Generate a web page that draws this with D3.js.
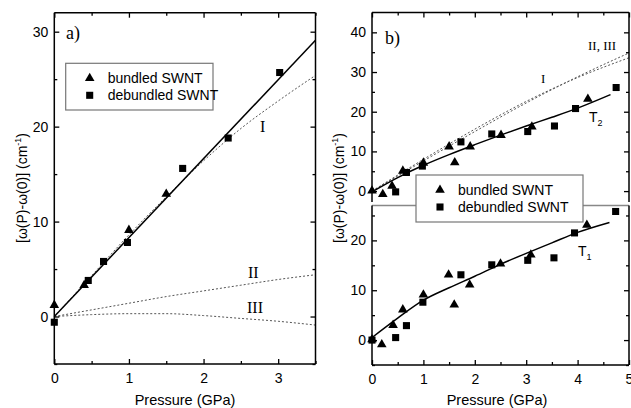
<!DOCTYPE html>
<html>
<head>
<meta charset="utf-8">
<script src="https://cdn.jsdelivr.net/npm/d3@7"></script>
<style>
body { margin: 0; background: #fff; }
text { font-family: Arial, "Liberation Sans", sans-serif; }
.serif { font-family: "Liberation Serif", "Times New Roman", serif; }
</style>
</head>
<body>
<svg width="631" height="408"></svg>
<script>
// ---- panel a data ----
var aBundledP = [0, 0.40, 1.0, 1.5];
var aBundledV = [1.2, 3.3, 9.1, 12.9];
var aDebundledP = [0, 0.455, 0.66, 0.98, 1.72, 2.33, 3.02];
var aDebundledV = [-0.6, 3.8, 5.8, 7.8, 15.6, 18.8, 25.7];
var aFitP = [0, 3.5];
var aFitV = [0, 29.1];
var aCurveP = [0, 0.5, 1, 1.5, 2, 2.5, 3, 3.5];
var aCurveI = [0, 4.3, 8.6, 12.6, 16.4, 19.8, 22.7, 25.4];
var aCurveII = [0, 0.7, 1.4, 2.1, 2.7, 3.3, 3.9, 4.4];
var aCurveIII = [0, 0.2, 0.3, 0.3, 0.1, -0.2, -0.5, -0.9];

// ---- panel b data (T2 top, T1 bottom) ----
var t2BundledP = [0, 0.21, 0.39, 0.60, 1.0, 1.5, 1.61, 1.91, 2.51, 3.11, 4.2];
var t2BundledV = [0.1, -0.8, 1.3, 5.1, 7.1, 11.2, 7.2, 11.2, 14.1, 16.2, 23.2];
var t2DebundledP = [0.46, 0.67, 0.98, 1.73, 2.33, 3.03, 3.55, 3.96, 4.75];
var t2DebundledV = [-0.2, 4.7, 6.3, 12.4, 14.4, 15.0, 16.4, 20.8, 26.1];
var t2FitP = [0, 0.5, 1, 1.5, 2, 2.5, 3, 3.5, 4, 4.64];
var t2FitV = [-0.2, 3.4, 6.5, 9.2, 11.7, 14.1, 16.4, 18.6, 20.9, 24.3];
var bCurveP = [0, 1, 2, 3, 4, 5];
var bCurveI = [0, 8.0, 15.6, 22.6, 28.6, 33.6];
var bCurveII = [0, 7.6, 15.0, 22.2, 28.8, 34.8];

var t1BundledP = [0, 0.19, 0.41, 0.60, 1.0, 1.49, 1.6, 1.9, 2.5, 3.09, 4.18];
var t1BundledV = [0.1, -0.9, 3.0, 6.1, 9.1, 13.1, 7.1, 11.1, 15.3, 17.1, 23.1];
var t1DebundledP = [0, 0.46, 0.67, 0.99, 1.73, 2.33, 3.03, 3.54, 3.94, 4.74];
var t1DebundledV = [0, 0.5, 2.9, 7.6, 13.1, 15.1, 16.0, 16.5, 21.5, 25.8];
var t1FitP = [0, 0.5, 1, 1.5, 2, 2.5, 3, 3.5, 4, 4.62];
var t1FitV = [0.5, 4.4, 8.0, 10.5, 12.8, 15.2, 17.4, 19.5, 21.6, 23.6];

var legendNames = ["bundled SWNT", "debundled SWNT"];

var svg = d3.select("svg");
svg.append("rect").attr("width", 631).attr("height", 408).attr("fill", "#fff");

function zip(xs, ys) { return xs.map(function (x, i) { return [x, ys[i]]; }); }

var triangle = d3.symbol().type(d3.symbolTriangle).size(40);
var square = d3.symbol().type(d3.symbolSquare).size(50);

function drawPoints(g, x, y, pts, sym) {
    g.selectAll(null).data(pts).enter().append("path")
        .attr("d", sym)
        .attr("transform", function (d) { return "translate(" + x(d[0]) + "," + y(d[1]) + ")"; })
        .attr("fill", "#000");
}

function drawLine(g, x, y, pts, dotted) {
    var line = d3.line().x(function (d) { return x(d[0]); }).y(function (d) { return y(d[1]); })
        .curve(d3.curveMonotoneX);
    g.append("path").datum(pts).attr("d", line)
        .attr("fill", "none")
        .attr("stroke", dotted ? "#555" : "#000")
        .attr("stroke-width", dotted ? 1 : 1.5)
        .attr("stroke-dasharray", dotted ? "2,2" : null);
}

// one set of ticks (major + minor); labels only where asked
function ticks(g, axisFn, scale, pos, majors, minors, labelled, pad) {
    var major = axisFn(scale).tickValues(majors).tickSize(-5).tickPadding(pad || 6)
        .tickFormat(labelled ? d3.format("d") : "");
    var minor = axisFn(scale).tickValues(minors).tickSize(-3).tickFormat("");
    [major, minor].forEach(function (ax) {
        g.append("g").attr("transform", pos).call(ax)
            .call(function (s) { s.select(".domain").remove(); })
            .call(function (s) {
                s.selectAll("line").attr("stroke", "#000").attr("stroke-width", 1.3);
                s.selectAll("text").attr("font-size", 14).attr("fill", "#000")
                    .attr("font-family", "Arial, 'Liberation Sans', sans-serif");
            });
    });
}

function frameLine(x1, y1, x2, y2, col) {
    svg.append("line").attr("x1", x1).attr("y1", y1).attr("x2", x2).attr("y2", y2)
        .attr("stroke", col || "#000").attr("stroke-width", 1.5);
}

function legend(x0, y0, w, h) {
    var g = svg.append("g");
    g.append("rect").attr("x", x0).attr("y", y0).attr("width", w).attr("height", h)
        .attr("fill", "#fff").attr("stroke", "#777").attr("stroke-width", 1.2);
    var syms = [triangle, square];
    legendNames.forEach(function (name, i) {
        var cy = y0 + 15 + i * 17;
        g.append("path").attr("d", syms[i]).attr("transform", "translate(" + (x0 + 24) + "," + cy + ")");
        g.append("text").attr("x", x0 + 42).attr("y", cy + 5).attr("font-size", 14).text(name);
    });
}

function yLabel(cx, cy) {
    var t = svg.append("text").attr("transform", "translate(" + cx + "," + cy + ") rotate(-90)")
        .attr("text-anchor", "middle").attr("font-size", 14);
    t.append("tspan").text("[ω(P)-ω(0)] (cm");
    t.append("tspan").attr("font-size", 9).attr("dy", -6).text("-1");
    t.append("tspan").attr("dy", 6).text(")");
}

// ================= panel a =================
var ax = d3.scaleLinear().domain([0, 3.5]).range([54.3, 315.5]);
var ay = d3.scaleLinear().domain([-5, 32]).range([364, 12.7]);
var ga = svg.append("g");

drawLine(ga, ax, ay, zip(aCurveP, aCurveI), true);
drawLine(ga, ax, ay, zip(aCurveP, aCurveII), true);
drawLine(ga, ax, ay, zip(aCurveP, aCurveIII), true);
drawLine(ga, ax, ay, zip(aFitP, aFitV), false);
drawPoints(ga, ax, ay, zip(aBundledP, aBundledV), triangle);
drawPoints(ga, ax, ay, zip(aDebundledP, aDebundledV), square);

ticks(svg, d3.axisBottom, ax, "translate(0,364)", [0, 1, 2, 3], [0.5, 1.5, 2.5, 3.5], true, 9);
ticks(svg, d3.axisTop, ax, "translate(0,12.7)", [0, 1, 2, 3], [0.5, 1.5, 2.5, 3.5], false);
ticks(svg, d3.axisLeft, ay, "translate(54.3,0)", [0, 10, 20, 30], [-5, 5, 15, 25], true, 6);
ticks(svg, d3.axisRight, ay, "translate(315.5,0)", [0, 10, 20, 30], [-5, 5, 15, 25], false);
frameLine(54.3, 12.7, 315.5, 12.7);
frameLine(54.3, 364, 315.5, 364);
frameLine(54.3, 12.7, 54.3, 364);
frameLine(315.5, 12.7, 315.5, 364);

svg.append("text").attr("class", "serif").attr("x", 66).attr("y", 39).attr("font-size", 18).text("a)");
svg.append("text").attr("class", "serif").attr("x", 260).attr("y", 132).attr("font-size", 16).text("I");
svg.append("text").attr("class", "serif").attr("x", 248).attr("y", 278).attr("font-size", 16).text("II");
svg.append("text").attr("class", "serif").attr("x", 247).attr("y", 313).attr("font-size", 16).text("III");
legend(65.7, 63.3, 147.3, 46.7);
yLabel(27, 188);
svg.append("text").attr("x", 185).attr("y", 405).attr("text-anchor", "middle").attr("font-size", 14.5).text("Pressure (GPa)");

// ================= panel b =================
var bx = d3.scaleLinear().domain([0, 5]).range([372, 629]);
var by2 = d3.scaleLinear().domain([-3, 45]).range([203, 12.5]);
var by1 = d3.scaleLinear().domain([-5, 27]).range([365, 205.5]);

var gt = svg.append("g");
drawLine(gt, bx, by2, zip(bCurveP, bCurveI), true);
drawLine(gt, bx, by2, zip(bCurveP, bCurveII), true);
drawLine(gt, bx, by2, zip(t2FitP, t2FitV), false);
drawPoints(gt, bx, by2, zip(t2BundledP, t2BundledV), triangle);
drawPoints(gt, bx, by2, zip(t2DebundledP, t2DebundledV), square);

var gb = svg.append("g");
drawLine(gb, bx, by1, zip(t1FitP, t1FitV), false);
drawPoints(gb, bx, by1, zip(t1BundledP, t1BundledV), triangle);
drawPoints(gb, bx, by1, zip(t1DebundledP, t1DebundledV), square);

ticks(svg, d3.axisTop, bx, "translate(0,12.5)", [0, 1, 2, 3, 4, 5], [0.5, 1.5, 2.5, 3.5, 4.5], false);
ticks(svg, d3.axisLeft, by2, "translate(372,0)", [0, 10, 20, 30, 40], [5, 15, 25, 35], true, 6);
ticks(svg, d3.axisRight, by2, "translate(629,0)", [0, 10, 20, 30, 40], [5, 15, 25, 35], false);
ticks(svg, d3.axisBottom, bx, "translate(0,365)", [0, 1, 2, 3, 4, 5], [0.5, 1.5, 2.5, 3.5, 4.5], true, 9);
ticks(svg, d3.axisLeft, by1, "translate(372,0)", [0, 10, 20], [-5, 5, 15, 25], true, 6);
ticks(svg, d3.axisRight, by1, "translate(629,0)", [0, 10, 20], [-5, 5, 15, 25], false);

frameLine(372, 12.5, 629, 12.5);
frameLine(372, 12.5, 372, 202);
frameLine(629, 12.5, 629, 202);
frameLine(372, 205.5, 629, 205.5, "#888");
frameLine(372, 205.5, 372, 365);
frameLine(629, 205.5, 629, 365);
frameLine(372, 365, 629, 365);

svg.append("text").attr("class", "serif").attr("x", 385).attr("y", 44).attr("font-size", 18).text("b)");
svg.append("text").attr("class", "serif").attr("x", 541).attr("y", 83).attr("font-size", 13).text("I");
svg.append("text").attr("class", "serif").attr("x", 588).attr("y", 50).attr("font-size", 13).text("II, III");

var t2 = svg.append("text").attr("x", 589).attr("y", 122).attr("font-size", 14);
t2.append("tspan").text("T");
t2.append("tspan").attr("font-size", 9).attr("dy", 4).text("2");
var t1 = svg.append("text").attr("x", 578).attr("y", 256).attr("font-size", 14);
t1.append("tspan").text("T");
t1.append("tspan").attr("font-size", 9).attr("dy", 4).text("1");

legend(416, 175, 167, 47);
yLabel(344, 188);
svg.append("text").attr("x", 497).attr("y", 405).attr("text-anchor", "middle").attr("font-size", 14.5).text("Pressure (GPa)");
</script>
</body>
</html>
